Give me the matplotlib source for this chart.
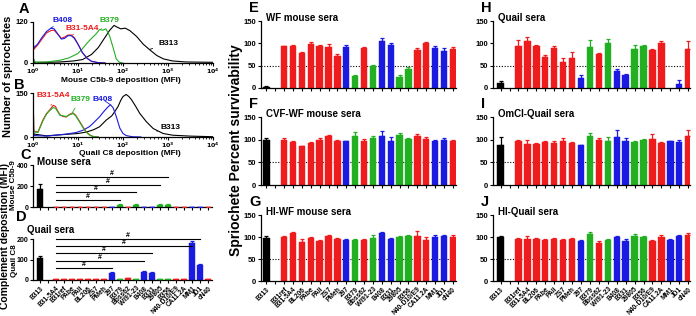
import numpy as np
import matplotlib
matplotlib.use("Agg")
import matplotlib.pyplot as plt

plt.rcParams['font.family'] = ['Liberation Sans', 'DejaVu Sans']
plt.rcParams['font.weight'] = 'bold'
plt.rcParams['mathtext.default'] = 'bf'

W, H = 696, 316
RED, BLUE, GREEN, BLACK = '#ee1c1c', '#1a1ae0', '#22b022', '#000000'

# ---------------- data ----------------
cats_EJ = ['B313', 'B31ref', 'B31-5A4', 'BL206', 'PAbe', 'PAli', 'ZS7', 'PMeh', '297', 'B379',
           'Bbss62', 'WI91-23', 'B408', 'B331', '29805', 'B356', 'N40-D10/E9', 'CA11.2A',
           'MM1', 'JD1', 'cN40']
groups_EJ = ['k', 'r', 'r', 'r', 'r', 'r', 'r', 'r', 'b', 'g', 'r', 'g', 'b', 'b', 'g', 'g',
             'r', 'r', 'b', 'b', 'r']

cats_CD = ['B313', 'B31-5A4', 'B31ref', 'PAbe', 'PAli', 'BL206', 'ZS7', 'PMeh', '297', 'B379',
           'Bbss62', 'WI91-23', 'B408', 'B331', '29805', 'B356', 'N40-D10/E9', 'CA11.2A',
           'MM1', 'JD1', 'cN40']
groups_CD = groups_EJ

E_val = [3, 93, 95, 79, 98, 94, 91, 72, 92, 26, 89, 50, 106, 96, 24, 43, 84, 100, 89, 82, 88]
E_err = [1, 2, 2, 2, 4, 2, 7, 4, 4, 4, 3, 1, 6, 4, 6, 3, 6, 3, 4, 7, 3]
F_val = [99, 100, 95, 85, 92, 100, 107, 97, 96, 107, 97, 103, 107, 97, 111, 102, 107, 102, 98, 99, 97]
F_err = [5, 3, 3, 2, 2, 4, 4, 3, 2, 10, 5, 6, 13, 9, 3, 1, 5, 4, 2, 5, 3]
G_val = [97, 101, 108, 88, 97, 92, 102, 95, 93, 93, 93, 98, 110, 96, 99, 103, 103, 94, 101, 103, 101]
G_err = [5, 2, 3, 7, 2, 2, 2, 2, 3, 2, 2, 6, 2, 2, 4, 2, 10, 5, 3, 2, 4]
H_val = [12, 95, 106, 93, 70, 89, 58, 68, 23, 92, 75, 100, 37, 28, 88, 95, 84, 100, 0, 10, 88]
H_err = [3, 13, 8, 3, 4, 5, 10, 13, 7, 15, 3, 10, 5, 4, 8, 2, 3, 5, 0, 7, 18]
I_val = [88, 98, 90, 90, 94, 93, 98, 92, 88, 107, 99, 98, 105, 96, 95, 100, 101, 92, 96, 94, 109]
I_err = [17, 2, 10, 3, 4, 3, 6, 3, 1, 8, 5, 7, 16, 8, 3, 2, 12, 3, 2, 5, 12]
J_val = [100, 96, 96, 95, 93, 96, 94, 95, 90, 107, 87, 93, 100, 92, 102, 100, 91, 100, 94, 102, 105]
J_err = [2, 2, 6, 2, 3, 2, 2, 2, 3, 4, 4, 3, 3, 3, 5, 2, 2, 4, 2, 3, 3]

C_val = [170, 2, 2, 2, 2, 2, 2, 2, 2, 20, 2, 20, 2, 2, 20, 20, 2, 2, 2, 2, 2]
C_err = [45, 2, 2, 2, 2, 2, 2, 2, 2, 6, 2, 6, 2, 2, 6, 6, 2, 2, 2, 2, 2]
D_val = [105, 3, 3, 3, 3, 3, 3, 3, 35, 3, 8, 3, 40, 36, 3, 3, 3, 3, 180, 75, 3]
D_err = [10, 2, 2, 2, 2, 2, 2, 2, 5, 2, 3, 2, 3, 3, 2, 2, 2, 2, 8, 4, 2]

# significance lines (end category, y level)
C_sig_end = ['B356', '29805', 'WI91-23', 'B379']
C_sig_y = [285, 210, 140, 65]
D_sig_end = ['JD1', 'MM1', 'B331', 'B408', '297']
D_sig_y = [200, 165, 130, 95, 60]

# flow cytometry histograms (log10 MFI, count)
A_blue_x = [0, 0.005, 0.02, 0.1, 0.2, 0.3, 0.4, 0.47, 0.55, 0.63, 0.7, 0.78, 0.85, 0.92, 1.0, 1.1, 1.2, 1.3, 1.45, 1.6]
A_blue_y = [0, 60, 45, 55, 75, 92, 102, 100, 85, 70, 72, 80, 80, 72, 55, 30, 14, 5, 1, 0]
A_red_x = [0, 0.005, 0.02, 0.1, 0.2, 0.3, 0.4, 0.47, 0.55, 0.63, 0.7, 0.78, 0.85, 0.92, 1.0, 1.1, 1.2, 1.3, 1.45, 1.6]
A_red_y = [0, 55, 40, 52, 70, 88, 95, 96, 84, 72, 76, 82, 82, 74, 55, 30, 14, 5, 1, 0]
A_green_x = [0, 0.005, 0.05, 0.3, 0.6, 0.8, 1.0, 1.1, 1.2, 1.3, 1.4, 1.48, 1.55, 1.62, 1.7, 1.78, 1.85, 1.92, 2.0]
A_green_y = [0, 15, 2, 3, 8, 15, 28, 42, 58, 72, 85, 98, 96, 100, 80, 45, 12, 2, 0]
A_black_x = [0, 0.005, 0.03, 0.3, 0.6, 0.9, 1.1, 1.3, 1.45, 1.6, 1.7, 1.8, 1.87, 1.95, 2.05, 2.15, 2.3, 2.45, 2.6, 2.75, 2.9, 3.1, 3.4, 4.0]
A_black_y = [0, 10, 2, 2, 3, 6, 10, 25, 45, 75, 95, 110, 105, 100, 102, 95, 78, 55, 38, 22, 12, 6, 3, 2]

B_red_x = [0, 0.005, 0.015, 0.11, 0.22, 0.3, 0.37, 0.45, 0.5, 0.55, 0.6, 0.67, 0.74, 0.82, 0.89, 0.95, 1.04, 1.12, 1.19, 1.26, 1.33, 1.45]
B_red_y = [0, 150, 20, 17, 58, 80, 92, 108, 104, 88, 76, 70, 68, 78, 82, 74, 52, 32, 17, 7, 2, 0]
B_green_x = [0, 0.005, 0.015, 0.11, 0.22, 0.3, 0.37, 0.45, 0.5, 0.55, 0.6, 0.67, 0.74, 0.82, 0.89, 0.95, 1.04, 1.12, 1.19, 1.26, 1.33, 1.45]
B_green_y = [0, 140, 18, 15, 55, 78, 90, 100, 98, 86, 74, 72, 70, 76, 80, 72, 50, 30, 15, 6, 2, 0]
B_blue_x = [0, 0.005, 0.02, 0.3, 0.74, 0.95, 1.11, 1.25, 1.33, 1.48, 1.58, 1.65, 1.72, 1.78, 1.85, 1.93, 2.0, 2.07, 2.2, 2.4]
B_blue_y = [0, 40, 5, 3, 10, 15, 23, 35, 46, 69, 88, 100, 110, 100, 70, 30, 12, 5, 1, 0]
B_black_x = [0, 0.005, 0.015, 0.3, 0.74, 1.0, 1.19, 1.35, 1.48, 1.63, 1.75, 1.81, 1.89, 1.95, 2.0, 2.07, 2.13, 2.19, 2.28, 2.37, 2.52, 2.67, 2.89, 3.11, 3.5, 4.0]
B_black_y = [0, 150, 10, 4, 9, 12, 17, 25, 35, 58, 72, 85, 104, 125, 138, 145, 138, 127, 105, 81, 52, 29, 12, 6, 3, 1]

cmap = {'k': BLACK, 'r': RED, 'b': BLUE, 'g': GREEN}

# ---------------- helpers ----------------
fig = plt.figure(figsize=(W / 100, H / 100), dpi=100)


def add_ax(x0, y0, x1, y1):
    return fig.add_axes([x0 / W, 1 - y1 / H, (x1 - x0) / W, (y1 - y0) / H])


def style(ax, ls=5.5):
    for s in ['top', 'right']:
        ax.spines[s].set_visible(False)
    for s in ['left', 'bottom']:
        ax.spines[s].set_linewidth(0.9)
    ax.tick_params(axis='both', direction='out', length=2.5, width=0.8, labelsize=ls, pad=1)


def positions(n):
    # slot 1 left empty after the control
    return np.array([0] + list(range(2, n + 1)), dtype=float)


def bar_panel(ax, vals, errs, groups, cats, ylim, yticks, xlim, labels=False, dotted=None, ls=5.5):
    pos = positions(len(vals))
    cols = [cmap[g] for g in groups]
    for p, v, e, c in zip(pos, vals, errs, cols):
        if v <= 0:
            continue
        ax.bar(p, v, width=0.72, color=c, edgecolor=c, linewidth=0.3, zorder=2)
        ax.errorbar(p, v, yerr=[[0], [e]], fmt='none', ecolor=c, elinewidth=0.9,
                    capsize=1.6, capthick=0.9, zorder=3)
    ax.set_ylim(*ylim)
    ax.set_yticks(yticks)
    ax.set_xlim(*xlim)
    ax.set_xticks(list(pos) + [1])
    ax.set_xticklabels([])
    style(ax, ls)
    if labels:
        ax.set_xticks(pos)
        ax.set_xticklabels(cats, rotation=45, ha='right', rotation_mode='anchor',
                           fontsize=4.8, fontweight='bold')
        ax.set_xticks([1], minor=True)
        ax.tick_params(axis='x', which='minor', length=2.5, width=0.8)
    if dotted is not None:
        ax.axhline(dotted, color='k', ls=(0, (1, 1.5)), lw=0.8, zorder=1)
    for t in ax.get_yticklabels():
        t.set_fontweight('bold')


# ---------------- E-J ----------------
EJ_xlim = (-0.6, 21.35)
HJ_xlim = (-0.85, 21.2)
specs = [
    (E_val, E_err, (261, 21, 456, 88), EJ_xlim, False, 'WF mouse sera', 'E'),
    (F_val, F_err, (261, 117, 456, 185), EJ_xlim, False, 'CVF-WF mouse sera', 'F'),
    (G_val, G_err, (261, 215, 456, 281), EJ_xlim, True, 'HI-WF mouse sera', 'G'),
    (H_val, H_err, (493, 21, 690, 88), HJ_xlim, False, 'Quail sera', 'H'),
    (I_val, I_err, (493, 117, 690, 185), HJ_xlim, False, 'OmCI-Quail sera', 'I'),
    (J_val, J_err, (493, 215, 690, 281), HJ_xlim, True, 'HI-Quail sera', 'J'),
]
for vals, errs, box, xl, lab, title, letter in specs:
    ax = add_ax(*box)
    bar_panel(ax, vals, errs, groups_EJ, cats_EJ, (0, 150), [0, 50, 100, 150], xl,
              labels=lab, dotted=50)
    fig.text((box[0] + 5) / W, 1 - (box[1] - 3) / H, title, fontsize=7, fontweight='bold',
             va='center', ha='left')
    fig.text((box[0] - 12) / W, 1 - (box[1] - 13) / H, letter, fontsize=10.5,
             fontweight='bold', va='center', ha='left')

fig.text(236 / W, 1 - 150 / H, 'Spriochete Percent survivability', rotation=90,
         fontsize=10, fontweight='bold', va='center', ha='center')

# ---------------- C, D ----------------
CD_xlim = (-0.875, 21.5)
axC = add_ax(33, 165, 212, 207)
bar_panel(axC, C_val, C_err, groups_CD, cats_CD, (0, 400), [0, 200, 400], CD_xlim, ls=5)
axD = add_ax(33, 239, 212, 280)
bar_panel(axD, D_val, D_err, groups_CD, cats_CD, (0, 200), [0, 100, 200], CD_xlim,
          labels=True, ls=5)

posCD = positions(len(cats_CD))
for ax, ends, ys in [(axC, C_sig_end, C_sig_y), (axD, D_sig_end, D_sig_y)]:
    for endc, yv in zip(ends, ys):
        xe = posCD[cats_CD.index(endc)]
        xs = posCD[1]
        ax.plot([xs, xe], [yv, yv], color='k', lw=0.8, clip_on=False, zorder=4)
        ax.text((xs + xe) / 2, yv, '#', fontsize=5, ha='center', va='bottom',
                fontweight='bold', clip_on=False)

fig.text(37 / W, 1 - 162 / H, 'Mouse sera', fontsize=7, fontweight='bold', va='center')
fig.text(27 / W, 1 - 230 / H, 'Quail sera', fontsize=7, fontweight='bold', va='center')
fig.text(20 / W, 1 - 155 / H, 'C', fontsize=10.5, fontweight='bold', va='center')
fig.text(16 / W, 1 - 217 / H, 'D', fontsize=10.5, fontweight='bold', va='center')
fig.text(14 / W, 1 - 185 / H, 'Mouse C5b-9', rotation=90, fontsize=5.8, fontweight='bold',
         va='center', ha='center')
fig.text(14 / W, 1 - 261 / H, 'Quail C8', rotation=90, fontsize=5.8, fontweight='bold',
         va='center', ha='center')
fig.text(5 / W, 1 - 236 / H, 'Complement deposition (MFI)', rotation=90, fontsize=7.5,
         fontweight='bold', va='center', ha='center')

# ---------------- A, B histograms ----------------
def hist_panel(box, curves, ymax, xlabel, label_y):
    ax = add_ax(*box)
    for xs, ys, c in curves:
        ax.plot(10 ** np.array(xs), ys, color=c, lw=0.8)
    ax.set_xscale('log')
    ax.set_xlim(1, 1e4)
    ax.set_ylim(0, ymax)
    ax.set_yticks([0, ymax])
    ax.set_xticks([1, 10, 100, 1000, 10000])
    ax.set_xticklabels([r'$10^0$', r'$10^1$', r'$10^2$', r'$10^3$', r'$10^4$'])
    style(ax)
    ax.tick_params(axis='x', which='minor', length=1.5, width=0.6)
    ax.tick_params(axis='x', labelsize=4.5, pad=0.5)
    for t in ax.get_yticklabels():
        t.set_fontweight('bold')
    fig.text(181 / W, 1 - label_y / H, xlabel, ha='right', va='center', fontsize=6,
             fontweight='bold')
    return ax


axA = hist_panel((33, 22, 213, 63), [(A_black_x, A_black_y, BLACK), (A_green_x, A_green_y, GREEN),
                                     (A_red_x, A_red_y, RED), (A_blue_x, A_blue_y, BLUE)],
                 120, 'Mouse C5b-9 deposition (MFI)', 80.5)
axB = hist_panel((33, 93, 213, 137), [(B_black_x, B_black_y, BLACK), (B_blue_x, B_blue_y, BLUE),
                                      (B_red_x, B_red_y, RED), (B_green_x, B_green_y, GREEN)],
                 150, 'Quail C8 deposition (MFI)', 153.5)

# curve labels with leader lines
def lab(ax, text, xy_txt, xy_pt, c):
    ax.annotate(text, xy=xy_pt, xytext=xy_txt, color=c, fontsize=6, fontweight='bold',
                ha='center', va='center',
                arrowprops=dict(arrowstyle='-', color=c, lw=0.6, shrinkA=2, shrinkB=0))


lab(axA, 'B408', (10 ** 0.65, 125), (10 ** 0.4, 102), BLUE)
lab(axA, 'B31-5A4', (10 ** 1.1, 102), (10 ** 0.88, 82), RED)
lab(axA, 'B379', (10 ** 1.7, 125), (10 ** 1.5, 98), GREEN)
lab(axA, 'B313', (10 ** 3.0, 58), (10 ** 2.6, 40), BLACK)

lab(axB, 'B31-5A4', (10 ** 0.45, 142), (10 ** 0.4, 108), RED)
lab(axB, 'B379', (10 ** 1.05, 128), (10 ** 0.87, 82), GREEN)
lab(axB, 'B408', (10 ** 1.55, 128), (10 ** 1.72, 110), BLUE)
lab(axB, 'B313', (10 ** 3.05, 32), (10 ** 2.75, 20), BLACK)

fig.text(19 / W, 1 - 9 / H, 'A', fontsize=10.5, fontweight='bold', va='center')
fig.text(14 / W, 1 - 85 / H, 'B', fontsize=10.5, fontweight='bold', va='center')
fig.text(8 / W, 1 - 76 / H, 'Number of spirochetes', rotation=90, fontsize=8,
         fontweight='bold', va='center', ha='center')

fig.savefig('out.png', dpi=100)
